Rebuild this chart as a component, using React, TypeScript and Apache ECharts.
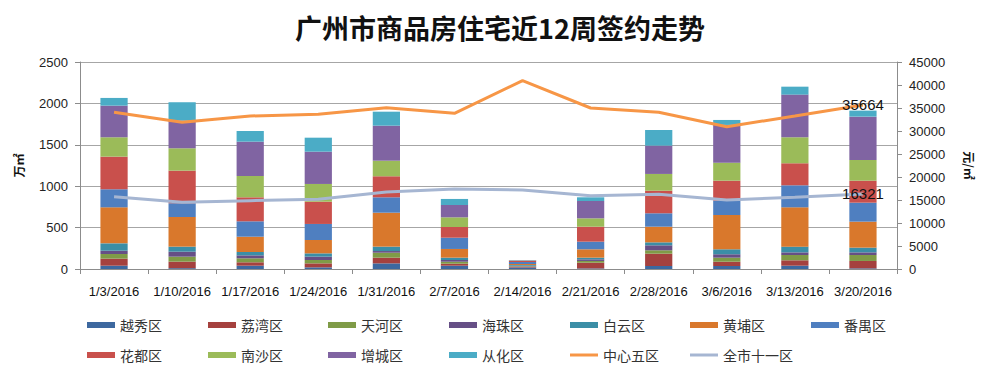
import React, { useEffect, useRef } from "react";
import * as echarts from "echarts";

const categories = ["1/3/2016", "1/10/2016", "1/17/2016", "1/24/2016", "1/31/2016", "2/7/2016", "2/14/2016", "2/21/2016", "2/28/2016", "3/6/2016", "3/13/2016", "3/20/2016"];

const barNames = ["越秀区", "荔湾区", "天河区", "海珠区", "白云区", "黄埔区", "番禺区", "花都区", "南沙区", "增城区", "从化区"];
const barColors = ["#3D689F", "#A5413E", "#7F9B47", "#664F86", "#3B8EA6", "#D9782C", "#4F7FC0", "#C9504C", "#9BBB59", "#8064A2", "#4BACC6"];

const yuexiu = [40, 10, 40, 20, 68, 40, 18, 7, 36, 36, 40, 8];
const liwan = [85, 79, 41, 48, 69, 24, 10, 69, 149, 52, 65, 89];
const tianhe = [56, 60, 48, 41, 60, 24, 5, 21, 41, 49, 64, 72];
const haizhu = [40, 60, 36, 40, 20, 21, 5, 20, 60, 41, 32, 32];
const baiyun = [89, 61, 40, 40, 53, 28, 10, 20, 36, 60, 69, 57];
const huangpu = [435, 358, 185, 161, 410, 105, 12, 101, 189, 414, 475, 314];
const panyu = [218, 166, 186, 194, 186, 136, 25, 92, 162, 173, 266, 229];
const huadu = [394, 394, 290, 269, 254, 129, 15, 181, 273, 242, 266, 266];
const nansha = [234, 270, 257, 214, 188, 117, 3, 101, 202, 217, 314, 250];
const zengcheng = [382, 334, 415, 390, 423, 149, 3, 209, 342, 456, 515, 523];
const conghua = [93, 222, 129, 169, 169, 73, 2, 45, 189, 60, 96, 73];

const barValues = [yuexiu, liwan, tianhe, haizhu, baiyun, huangpu, panyu, huadu, nansha, zengcheng, conghua];

const center5 = [34066, 31890, 33260, 33630, 35070, 33850, 40940, 35000, 34060, 30940, 33260, 35664];
const city11 = [15720, 14500, 14850, 15150, 16740, 17390, 17170, 15940, 16230, 15000, 15590, 16321];

const legendCols = [87, 208, 328, 449, 570, 690, 811];

export default function App() {
  const ref = useRef<HTMLDivElement>(null);
  useEffect(() => {
    if (!ref.current) return;
    const chart = echarts.init(ref.current, null, { renderer: "svg" });
    const cjk = "'Noto Sans CJK SC', 'Noto Sans', sans-serif";
    const latin = "'Liberation Sans', 'DejaVu Sans', sans-serif";

    const barSeries = barNames.map((name, i) => ({
      name,
      type: "bar",
      stack: "total",
      barWidth: "40%",
      yAxisIndex: 0,
      itemStyle: { color: barColors[i] },
      data: barValues[i],
    }));

    const lastLabel = (arr: number[]) =>
      arr.map((v, i) =>
        i === arr.length - 1
          ? { value: v, label: { show: true, position: "inside", formatter: String(v), color: "#111", fontSize: 15, fontFamily: latin } }
          : v
      );

    const lineSeries = [
      { name: "中心五区", color: "#F79646", data: center5 },
      { name: "全市十一区", color: "#A6B6D2", data: city11 },
    ].map((l) => ({
      name: l.name,
      type: "line",
      yAxisIndex: 1,
      symbol: "circle",
      symbolSize: 0.01,
      showSymbol: true,
      z: 5,
      lineStyle: { color: l.color, width: 3 },
      itemStyle: { color: l.color },
      data: lastLabel(l.data),
    }));

    const legendOrder = [
      ["越秀区", "荔湾区", "天河区", "海珠区", "白云区", "黄埔区", "番禺区"],
      ["花都区", "南沙区", "增城区", "从化区", "中心五区", "全市十一区"],
    ];
    const legends: any[] = [];
    legendOrder.forEach((row, r) => {
      row.forEach((name, c) => {
        const isLine = name === "中心五区" || name === "全市十一区";
        legends.push({
          data: [{ name, icon: "rect" }],
          left: legendCols[c],
          top: r === 0 ? 318 : 348,
          padding: 0,
          itemWidth: 28,
          itemHeight: isLine ? 3 : 6,
          itemGap: 0,
          textStyle: { fontSize: 14, color: "#333", fontFamily: cjk },
          selectedMode: false,
        });
      });
    });

    chart.setOption({
      animation: false,
      backgroundColor: "#fff",
      title: {
        text: "广州市商品房住宅近12周签约走势",
        left: 495,
        textAlign: "center",
        top: 9,
        textStyle: { fontSize: 27, fontWeight: "bold", color: "#111", fontFamily: cjk },
      },
      legend: legends,
      grid: { left: 80, right: 92, top: 62, bottom: 102 },
      xAxis: {
        type: "category",
        data: categories,
        axisLine: { lineStyle: { color: "#8C8C8C" } },
        axisTick: { show: true, alignWithLabel: false, length: 5, lineStyle: { color: "#8C8C8C" } },
        axisLabel: { color: "#111", fontSize: 13, fontFamily: latin, margin: 16, interval: 0 },
      },
      yAxis: [
        {
          type: "value",
          min: 0,
          max: 2500,
          interval: 500,
          name: "万㎡",
          nameLocation: "middle",
          nameGap: 56,
          nameTextStyle: { fontSize: 12, fontWeight: "bold", color: "#111", fontFamily: cjk },
          axisLine: { show: true, lineStyle: { color: "#8C8C8C" } },
          axisTick: { show: true, length: 5, lineStyle: { color: "#8C8C8C" } },
          axisLabel: { color: "#222", fontSize: 13, fontFamily: latin, margin: 12, formatter: (v: number) => String(v) },
          splitLine: { show: true, lineStyle: { color: "#A6A6A6", width: 1 } },
        },
        {
          type: "value",
          min: 0,
          max: 45000,
          interval: 5000,
          name: "元/㎡",
          nameLocation: "middle",
          nameGap: 66,
          nameRotate: -90,
          nameTextStyle: { fontSize: 12, fontWeight: "bold", color: "#111", fontFamily: cjk },
          axisLine: { show: true, lineStyle: { color: "#8C8C8C" } },
          axisTick: { show: true, length: 5, inside: false, lineStyle: { color: "#8C8C8C" } },
          axisLabel: { color: "#222", fontSize: 13, fontFamily: latin, margin: 12, formatter: (v: number) => String(v) },
          splitLine: { show: false },
        },
      ],
      series: [...barSeries, ...lineSeries],
    } as any);
    return () => chart.dispose();
  }, []);
  return <div ref={ref} style={{ width: 989, height: 371, position: "absolute", left: 0, top: 0 }} />;
}
